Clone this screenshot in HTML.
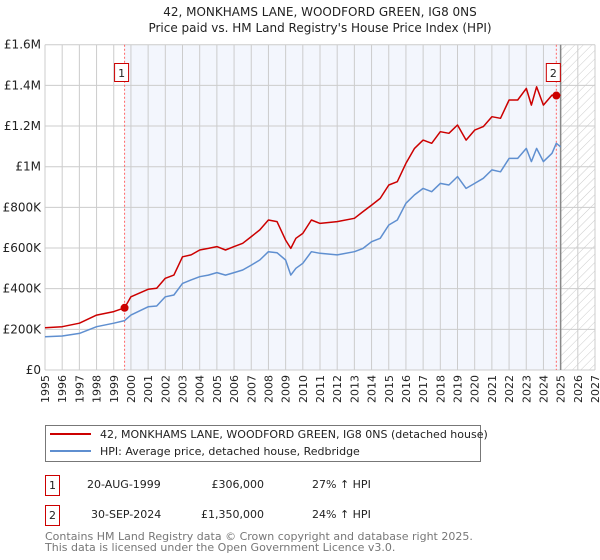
<!DOCTYPE html>
<html><head><meta charset="utf-8"><style>
body{margin:0;background:#fff;}
svg{display:block;font-family:"DejaVu Sans","Liberation Sans",sans-serif;}
</style></head><body>
<svg id="chart" width="600" height="560" xmlns="http://www.w3.org/2000/svg">
<defs><pattern id="hatch" width="6" height="6" patternUnits="userSpaceOnUse" patternTransform="rotate(45)"><line x1="0" y1="0" x2="0" y2="6" stroke="#ccc" stroke-width="1"/></pattern></defs>
<text x="320" y="16" text-anchor="middle" font-size="12" fill="#222">42, MONKHAMS LANE, WOODFORD GREEN, IG8 0NS</text>
<text x="320" y="32" text-anchor="middle" font-size="12" fill="#222">Price paid vs. HM Land Registry's House Price Index (HPI)</text>
<g id="plot"></g>
<g>
<rect x="45.5" y="425.5" width="435" height="36" fill="#fff" stroke="#777"/>
<line x1="50" y1="434" x2="91" y2="434" stroke="#cc0000" stroke-width="2"/>
<text x="100" y="438" font-size="11" fill="#222">42, MONKHAMS LANE, WOODFORD GREEN, IG8 0NS (detached house)</text>
<line x1="50" y1="451" x2="91" y2="451" stroke="#5f8fd0" stroke-width="2"/>
<text x="100" y="455" font-size="11" fill="#222">HPI: Average price, detached house, Redbridge</text>
</g>
<g font-size="11" fill="#222">
<rect x="45.5" y="475.5" width="14" height="20" fill="#fff" stroke="#cc0000"/>
<text x="52.5" y="489" text-anchor="middle">1</text>
<text x="87" y="488">20-AUG-1999</text>
<text x="264" y="488" text-anchor="end">£306,000</text>
<text x="312" y="488">27% ↑ HPI</text>
<rect x="45.5" y="505.5" width="14" height="20" fill="#fff" stroke="#cc0000"/>
<text x="52.5" y="519" text-anchor="middle">2</text>
<text x="91" y="518">30-SEP-2024</text>
<text x="264" y="518" text-anchor="end">£1,350,000</text>
<text x="312" y="518">24% ↑ HPI</text>
</g>
<text x="45" y="540" font-size="11" fill="#777">Contains HM Land Registry data © Crown copyright and database right 2025.</text>
<text x="45" y="551" font-size="11" fill="#777">This data is licensed under the Open Government Licence v3.0.</text>
</svg>
<script>
const years=[1995,1996,1997,1998,1999,1999.63,2000,2001,2001.5,2002,2002.5,2003,2003.5,2004,2004.5,2005,2005.5,2006,2006.5,2007,2007.5,2008,2008.5,2009,2009.3,2009.6,2010,2010.5,2011,2012,2013,2013.5,2014,2014.5,2015,2015.5,2016,2016.5,2017,2017.5,2018,2018.5,2019,2019.5,2020,2020.5,2021,2021.5,2022,2022.5,2023,2023.3,2023.6,2024,2024.5,2024.75,2025];
const hpiValues=[164,167,180,213,230,243,270,311,315,360,369,426,443,459,467,479,467,479,492,516,541,582,577,541,467,500,525,582,574,566,582,598,631,648,713,738,820,861,893,877,918,910,951,893,918,943,984,975,1041,1041,1090,1025,1090,1025,1066,1115,1098];
const propertyValues=[208,213,230,270,287,306,360,397,402,451,467,557,566,590,598,607,590,607,623,656,689,738,730,639,598,648,672,738,721,730,746,779,811,844,910,926,1016,1090,1131,1115,1172,1164,1205,1131,1180,1197,1246,1238,1328,1328,1385,1303,1393,1303,1352,1350,1352];
const saleYears=[1999.63,2024.75];
const salePrices=[306,1350];
const saleLabels=["1","2"];
const yTicks=[0,200,400,600,800,1000,1200,1400,1600];
const yTickLabels=["£0","£200K","£400K","£600K","£800K","£1M","£1.2M","£1.4M","£1.6M"];
const xTicks=[1995,1996,1997,1998,1999,2000,2001,2002,2003,2004,2005,2006,2007,2008,2009,2010,2011,2012,2013,2014,2015,2016,2017,2018,2019,2020,2021,2022,2023,2024,2025,2026,2027];
const forecastStart=2025;

const X0=45,X1=595,Y0=370,Y1=44.7;
const xs=y=>X0+(y-1995)/(2027-1995)*(X1-X0);
const ys=v=>Y0-v/1600*(Y0-Y1);
const NS="http://www.w3.org/2000/svg";
const g=document.getElementById('plot');
function el(t,a){const e=document.createElementNS(NS,t);for(const k in a)e.setAttribute(k,a[k]);g.appendChild(e);return e;}
let r=el('rect',{x:xs(saleYears[0]),y:Y1,width:xs(forecastStart)-xs(saleYears[0]),height:Y0-Y1,fill:'#f3f6fd'});


r=el('rect',{x:xs(forecastStart),y:Y1,width:X1-xs(forecastStart),height:Y0-Y1,fill:'url(#hatch)'});


xTicks.forEach((t,i)=>{
  const l=el('line',{x1:xs(t),x2:xs(t),y1:Y1,y2:Y0,stroke:'#ccc','stroke-width':1});
  
  
  const tx=el('text',{x:0,y:0,'font-size':11,fill:'#222',transform:`translate(${xs(t)+4},${Y0+5}) rotate(-90)`,'text-anchor':'end'});
  tx.textContent=t;
  
  
});
yTicks.forEach((t,i)=>{
  const l=el('line',{x1:X0,x2:X1,y1:ys(t),y2:ys(t),stroke:'#ccc','stroke-width':1});
  
  
  const tx=el('text',{x:X0-4,y:ys(t)+4,'font-size':12,fill:'#222','text-anchor':'end'});
  tx.textContent=yTickLabels[i];
  
  
});
let fl=el('line',{x1:xs(forecastStart),x2:xs(forecastStart),y1:Y1,y2:Y0,stroke:'#888','stroke-width':1.5});


saleYears.forEach((s,i)=>{
  const l=el('line',{x1:xs(s),x2:xs(s),y1:Y1,y2:Y0,stroke:'#ff6666','stroke-dasharray':'2,2','stroke-width':1});
  
  
  const b=el('rect',{x:xs(s)-22+8,y:63.5,width:14,height:18,fill:'#fff',stroke:'#cc0000'});
  b.setAttribute('x',xs(s)-(i==0?8:8)-2);
  
  
  const t=el('text',{x:xs(s)-3,y:77,'font-size':11,fill:'#222','text-anchor':'middle'});
  t.textContent=saleLabels[i];
  
  
});
function path(vals,color,name){
  const d=vals.map((v,i)=>(i?'L':'M')+xs(years[i]).toFixed(1)+','+ys(v).toFixed(1)).join('');
  const p=el('path',{d:d,fill:'none',stroke:color,'stroke-width':1.5,'stroke-linejoin':'round'});
  
  
}
path(hpiValues,'#5f8fd0','hpi-line');
path(propertyValues,'#cc0000','property-line');
saleYears.forEach((s,i)=>{
  const c=el('circle',{cx:xs(s),cy:ys(salePrices[i]),r:4,fill:'#cc0000'});
  
  
});
</script>
</body></html>
